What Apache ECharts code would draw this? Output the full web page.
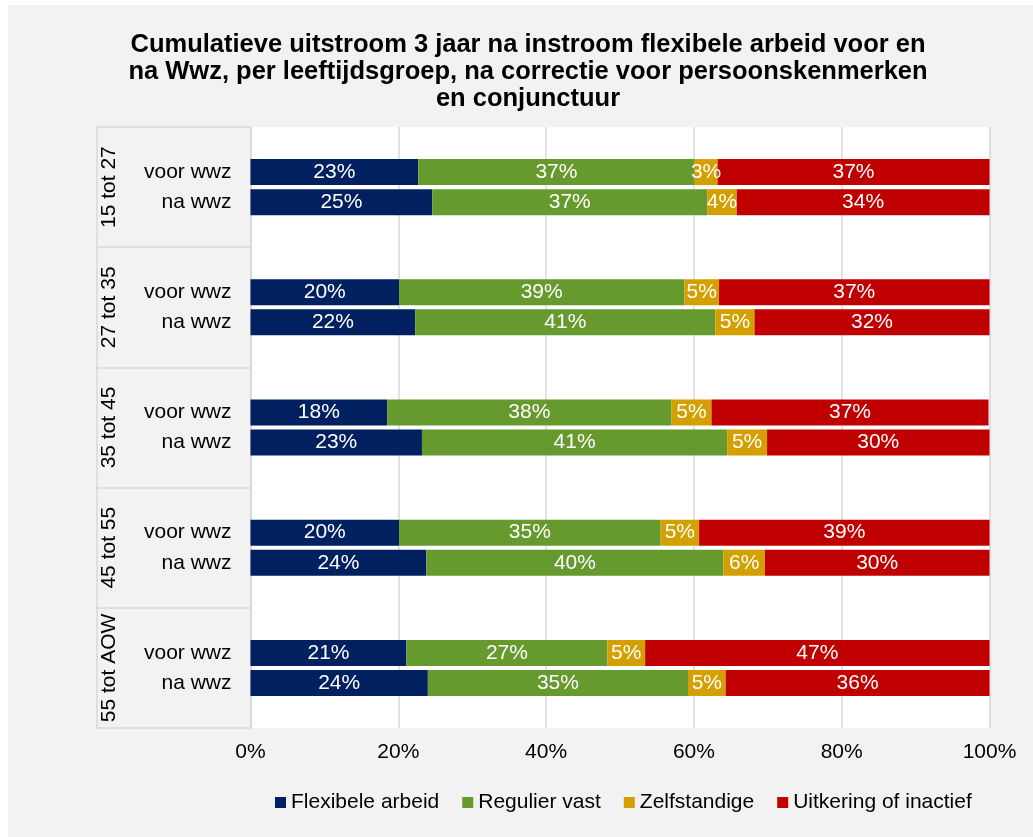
<!DOCTYPE html>
<html>
<head>
<meta charset="utf-8">
<script src="https://cdn.jsdelivr.net/npm/echarts@6/dist/echarts.min.js"></script>
<style>
html,body{margin:0;padding:0;background:#ffffff;}
#c{position:absolute;left:8px;top:5px;width:1025px;height:832px;}
</style>
</head>
<body>
<div id="c"></div>
<script>
// ---- data ----
const groups = ['15 tot 27', '27 tot 35', '35 tot 45', '45 tot 55', '55 tot AOW'];
const periods = ['voor wwz', 'na wwz'];
const seriesNames = ['Flexibele arbeid', 'Regulier vast', 'Zelfstandige', 'Uitkering of inactief'];
// order: per group voor, na
const flexibeleArbeid   = [22.7, 24.6, 20.1, 22.3, 18.49, 23.2, 20.1, 23.8, 21.1, 24.0];
const regulierVast      = [37.4, 37.2, 38.6, 40.6, 38.49, 41.3, 35.4, 40.2, 27.2, 35.2];
const zelfstandige      = [3.1, 4.0, 4.7, 5.3, 5.4, 5.4, 5.2, 5.6, 5.1, 5.1];
const uitkeringInactief = [36.8, 34.2, 36.6, 31.8, 37.49, 30.1, 39.3, 30.4, 46.6, 35.7];
const xTickStep = 20;

// ---- build category slots: blank, voor, na, blank per group ----
const cats = [];
groups.forEach(() => { cats.push('', periods[0], periods[1], ''); });
function expand(arr) {
  const out = [];
  for (let g = 0; g < groups.length; g++) {
    out.push(null, arr[2 * g], arr[2 * g + 1], null);
  }
  return out;
}
const values = [flexibeleArbeid, regulierVast, zelfstandige, uitkeringInactief];
const colors = ['#002060', '#669A2E', '#D4A000', '#C00000'];
const FONT = 'Liberation Sans, Arial, sans-serif';

const chart = echarts.init(document.getElementById('c'));
chart.setOption({
  backgroundColor: '#f2f2f2',
  animation: false,
  textStyle: { fontFamily: FONT },
  title: {
    text: 'Cumulatieve uitstroom 3 jaar na instroom flexibele arbeid voor en\nna Wwz, per leeftijdsgroep, na correctie voor persoonskenmerken\nen conjunctuur',
    left: 515,
    top: 21,
    textAlign: 'center',
    textStyle: { fontFamily: FONT, fontSize: 25.5, fontWeight: 'bold', lineHeight: 27, color: '#000' }
  },
  legend: {
    data: seriesNames,
    left: 262,
    top: 782,
    icon: 'rect',
    itemWidth: 11,
    itemHeight: 11,
    itemGap: 23,
    textStyle: { fontFamily: FONT, fontSize: 21, color: '#000' }
  },
  grid: {
    left: 242.5, right: 43.5, top: 122, bottom: 109,
    show: true, backgroundColor: '#ffffff', borderWidth: 0
  },
  xAxis: {
    type: 'value', min: 0, max: 100, interval: xTickStep,
    axisLine: { show: false }, axisTick: { show: false },
    axisLabel: { formatter: '{value}%', fontFamily: FONT, fontSize: 21, color: '#000', margin: 14 },
    splitLine: { show: true, lineStyle: { color: '#d9d9d9', width: 1.5 } }
  },
  yAxis: [
    {
      type: 'category', data: cats, inverse: true,
      axisLine: { show: true, lineStyle: { color: '#d9d9d9', width: 1.5 } },
      axisTick: { show: false },
      axisLabel: { interval: 0, fontFamily: FONT, fontSize: 21, color: '#000', margin: 19 }
    },
    {
      type: 'category', data: groups, inverse: true, position: 'left', offset: 154,
      axisLine: { show: true, lineStyle: { color: '#d9d9d9', width: 1.5 } },
      axisTick: { show: true, inside: true, length: 154, interval: 0, lineStyle: { color: '#d9d9d9', width: 1.5 } },
      axisLabel: { interval: 0, inside: true, rotate: 90, margin: 2, fontFamily: FONT, fontSize: 21, color: '#000' }
    }
  ],
  series: seriesNames.map((name, i) => ({
    name: name,
    type: 'bar',
    stack: 'total',
    yAxisIndex: 0,
    barWidth: 26,
    itemStyle: { color: colors[i] },
    label: {
      show: true, position: 'inside', color: '#fff', fontFamily: FONT, fontSize: 21,
      formatter: p => (p.value == null ? '' : Math.round(p.value) + '%')
    },
    emphasis: { disabled: true },
    data: expand(values[i])
  }))
});
</script>
</body>
</html>
